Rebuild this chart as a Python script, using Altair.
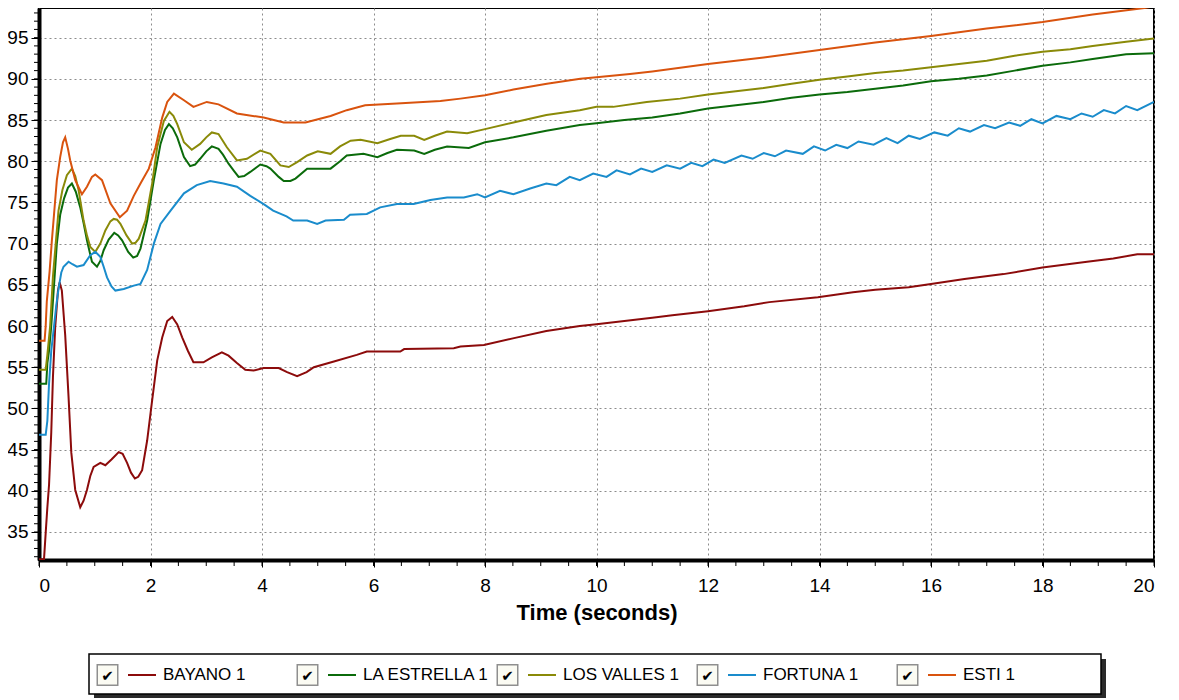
import altair as alt
import pandas as pd

# ---------------- data ----------------
series_names = ["BAYANO 1", "LA ESTRELLA 1", "LOS VALLES 1", "FORTUNA 1", "ESTI 1"]
series_colors = ["#8c0b0b", "#0b6b0b", "#8a8a08", "#1a8ccc", "#d9530e"]

bayano_t = [0, 0.09, 0.12, 0.15, 0.18, 0.22, 0.25, 0.29, 0.34, 0.37, 0.41, 0.47, 0.53, 0.58, 0.65, 0.74, 0.8, 0.86,
            0.92, 0.98, 1.1, 1.19, 1.3, 1.43, 1.5, 1.58, 1.65, 1.72, 1.78, 1.85, 1.94, 2.03, 2.12, 2.21, 2.3, 2.39,
            2.48, 2.57, 2.67, 2.77, 2.95, 3.1, 3.28, 3.4, 3.55, 3.7, 3.85, 4.03, 4.3, 4.45, 4.63, 4.8, 4.93, 5.29,
            5.7, 5.88, 6.48, 6.55, 7.44, 7.56, 7.98, 8.5, 9.1, 9.7, 10.0, 10.5, 11.0, 11.36, 12.0, 12.65, 13.1,
            13.97, 14.6, 15.0, 15.6, 16.0, 16.6, 17.3, 18.0, 18.8, 19.27, 19.7, 20.0]
bayano_v = [31.7, 31.7, 34.9, 38.0, 40.7, 47.1, 53.8, 59.8, 64.3, 65.3, 64.3, 58.9, 51.4, 44.6, 40.1, 38.0, 38.8, 40.1,
            41.8, 42.9, 43.4, 43.1, 43.8, 44.7, 44.5, 43.4, 42.2, 41.5, 41.7, 42.5, 46.1, 51.0, 55.8, 58.6, 60.6, 61.1,
            60.2, 58.6, 57.0, 55.6, 55.6, 56.2, 56.8, 56.4, 55.5, 54.7, 54.6, 54.9, 54.9, 54.4, 53.9, 54.4, 55.0, 55.7,
            56.5, 56.9, 56.9, 57.2, 57.3, 57.5, 57.7, 58.5, 59.4, 60.0, 60.2, 60.6, 61.0, 61.3, 61.8, 62.4, 62.9,
            63.5, 64.1, 64.4, 64.7, 65.1, 65.7, 66.3, 67.1, 67.8, 68.2, 68.7, 68.7]

estrella_t = [0, 0.13, 0.15, 0.18, 0.22, 0.27, 0.32, 0.38, 0.45, 0.52, 0.59, 0.66, 0.74, 0.8, 0.86, 0.95, 1.04, 1.1,
              1.16, 1.25, 1.35, 1.42, 1.49, 1.6, 1.69, 1.76, 1.82, 1.94, 2.06, 2.18, 2.26, 2.33, 2.4, 2.48, 2.6, 2.71,
              2.8, 2.89, 3.0, 3.1, 3.22, 3.3, 3.4, 3.5, 3.58, 3.68, 3.79, 3.97, 4.08, 4.15, 4.3, 4.39, 4.51, 4.6,
              4.81, 5.23, 5.4, 5.52, 5.82, 6.07, 6.25, 6.42, 6.73, 6.91, 7.1, 7.32, 7.71, 8.0, 8.51, 9.1, 9.7, 10.0,
              10.5, 11.0, 11.5, 12.0, 12.5, 13.0, 13.5, 14.0, 14.5, 15.0, 15.5, 16.0, 16.5, 17.0, 17.5, 18.0, 18.5,
              18.9, 19.5, 20.0]
estrella_v = [53.0, 53.0, 55.5, 57.0, 60.0, 65.0, 70.0, 73.5, 75.5, 76.8, 77.3, 76.3, 74.4, 72.5, 70.4, 67.8, 67.2, 67.9,
              69.2, 70.5, 71.3, 71.0, 70.4, 69.0, 68.3, 68.5, 69.4, 72.8, 77.7, 82.1, 83.8, 84.5, 84.0, 82.9, 80.5, 79.4,
              79.6, 80.3, 81.2, 81.8, 81.5, 80.8, 79.7, 78.8, 78.1, 78.2, 78.7, 79.6, 79.4, 79.1, 78.1, 77.6, 77.6, 77.9,
              79.1, 79.1, 80.0, 80.7, 80.9, 80.5, 81.0, 81.4, 81.3, 80.9, 81.4, 81.8, 81.6, 82.3, 82.9, 83.7, 84.4, 84.6,
              85.0, 85.3, 85.8, 86.4, 86.8, 87.2, 87.7, 88.1, 88.4, 88.8, 89.2, 89.7, 90.0, 90.4, 91.0, 91.6, 92.0,
              92.4, 93.0, 93.1]

valles_t = [0, 0.12, 0.15, 0.2, 0.25, 0.3, 0.35, 0.42, 0.5, 0.59, 0.65, 0.71, 0.8, 0.86, 0.92, 1.01, 1.1, 1.19, 1.28,
            1.34, 1.4, 1.46, 1.57, 1.67, 1.73, 1.79, 1.91, 2.03, 2.12, 2.24, 2.34, 2.41, 2.48, 2.6, 2.74, 2.89, 3.0,
            3.1, 3.22, 3.37, 3.55, 3.73, 3.97, 4.15, 4.33, 4.48, 4.63, 4.81, 5.0, 5.23, 5.4, 5.59, 5.77, 6.07, 6.3,
            6.49, 6.73, 6.91, 7.1, 7.32, 7.68, 8.0, 8.51, 9.1, 9.7, 10.0, 10.3, 10.9, 11.5, 12.0, 12.5, 13.0, 13.5,
            14.0, 14.5, 15.0, 15.5, 16.0, 16.5, 17.0, 17.5, 18.0, 18.5, 18.9, 19.5, 20.0]
valles_v = [54.7, 54.7, 56.5, 60.0, 66.0, 70.0, 74.0, 76.5, 78.3, 79.1, 78.2, 76.5, 72.8, 71.0, 69.6, 69.0, 70.0, 71.6, 72.7,
            73.0, 72.9, 72.4, 71.0, 70.0, 70.1, 70.6, 72.8, 77.3, 81.7, 84.9, 86.0, 85.5, 84.5, 82.3, 81.4, 82.1, 82.9,
            83.5, 83.3, 81.7, 80.1, 80.3, 81.3, 80.9, 79.5, 79.3, 79.9, 80.7, 81.2, 80.9, 81.8, 82.5, 82.6, 82.2, 82.7,
            83.1, 83.1, 82.6, 83.1, 83.6, 83.4, 83.9, 84.7, 85.6, 86.2, 86.6, 86.6, 87.2, 87.6, 88.1, 88.5, 88.9, 89.4,
            89.9, 90.3, 90.7, 91.0, 91.4, 91.8, 92.2, 92.8, 93.3, 93.6, 94.0, 94.5, 94.9]

fortuna_t = [0, 0.12, 0.15, 0.18, 0.22, 0.27, 0.31, 0.35, 0.4, 0.44, 0.53, 0.6, 0.68, 0.8, 0.92, 1.01, 1.1, 1.16, 1.22,
             1.3, 1.37, 1.52, 1.7, 1.82, 1.94, 2.06, 2.18, 2.36, 2.6, 2.83, 3.07, 3.31, 3.55, 3.79, 4.03, 4.2, 4.44,
             4.56, 4.81, 4.99, 5.14, 5.47, 5.58, 5.88, 6.12, 6.42, 6.72, 7.02, 7.32, 7.62, 7.86, 8.0, 8.27, 8.51, 8.81,
             9.1, 9.28, 9.52, 9.7, 9.94, 10.18, 10.36, 10.6, 10.8, 11.0, 11.26, 11.5, 11.7, 11.9, 12.1, 12.3, 12.6,
             12.8, 13.0, 13.2, 13.4, 13.7, 13.9, 14.1, 14.3, 14.5, 14.7, 14.97, 15.2, 15.4, 15.6, 15.8, 16.06, 16.3,
             16.5, 16.7, 16.95, 17.15, 17.4, 17.6, 17.8, 18.0, 18.25, 18.5, 18.7, 18.9, 19.1, 19.3, 19.5, 19.7, 20.0]
fortuna_v = [46.8, 46.8, 48.5, 53.0, 57.0, 60.0, 62.5, 64.5, 66.5, 67.2, 67.8, 67.5, 67.2, 67.4, 68.6, 69.0, 68.4, 67.2, 65.9,
             64.8, 64.3, 64.5, 64.9, 65.1, 66.8, 70.0, 72.4, 74.0, 76.1, 77.1, 77.6, 77.3, 76.9, 75.8, 74.8, 74.0, 73.3,
             72.8, 72.8, 72.4, 72.8, 72.9, 73.5, 73.6, 74.4, 74.8, 74.8, 75.3, 75.6, 75.6, 76.0, 75.6, 76.4, 76.0, 76.7,
             77.3, 77.1, 78.1, 77.7, 78.5, 78.1, 78.9, 78.4, 79.1, 78.7, 79.5, 79.1, 79.8, 79.4, 80.2, 79.8, 80.7,
             80.3, 81.0, 80.6, 81.3, 80.9, 81.8, 81.3, 82.0, 81.6, 82.4, 82.0, 82.8, 82.2, 83.1, 82.7, 83.5, 83.1,
             84.0, 83.6, 84.4, 84.0, 84.7, 84.3, 85.1, 84.6, 85.5, 85.1, 85.8, 85.4, 86.2, 85.8, 86.7, 86.2, 87.2]

esti_t = [0, 0.1, 0.12, 0.14, 0.19, 0.23, 0.27, 0.32, 0.38, 0.43, 0.47, 0.52, 0.56, 0.65, 0.77, 0.86, 0.95, 1.01, 1.13,
          1.28, 1.45, 1.58, 1.7, 1.82, 1.97, 2.09, 2.21, 2.3, 2.42, 2.6, 2.77, 3.01, 3.22, 3.55, 4.03, 4.39, 4.78,
          5.23, 5.52, 5.85, 6.42, 7.2, 7.56, 8.0, 8.51, 9.11, 9.71, 10.0, 10.6, 11.0, 12.0, 13.0, 14.0, 15.0, 16.0,
          17.0, 18.0, 18.9, 19.83, 20.0]
esti_v = [58.2, 58.2, 60.0, 63.0, 66.6, 70.3, 73.6, 77.7, 80.5, 82.3, 82.9, 81.5, 80.1, 77.7, 76.0, 76.9, 78.1, 78.4, 77.7,
          74.9, 73.2, 74.0, 75.8, 77.3, 79.1, 81.7, 85.3, 87.2, 88.2, 87.4, 86.6, 87.2, 86.9, 85.8, 85.3, 84.7, 84.7,
          85.5, 86.2, 86.8, 87.0, 87.3, 87.6, 88.0, 88.7, 89.4, 90.0, 90.2, 90.6, 90.9, 91.8, 92.6, 93.5, 94.4, 95.2,
          96.1, 96.9, 97.8, 98.6, 98.8]

x_ticks = list(range(0, 21, 2))
y_ticks = list(range(35, 96, 5))
y_domain = [31.6, 98.6]
x_domain = [0, 20]

# ---------------- build tables ----------------
all_t = [bayano_t, estrella_t, valles_t, fortuna_t, esti_t]
all_v = [bayano_v, estrella_v, valles_v, fortuna_v, esti_v]
frames = []
for i, (name, ts, vs) in enumerate(zip(series_names, all_t, all_v)):
    frames.append(pd.DataFrame({"t": ts, "v": vs, "name": name, "order": i}))
df = pd.concat(frames, ignore_index=True)

minor_y = pd.DataFrame({"mv": [v for v in range(32, 99)]})
minor_x = pd.DataFrame({"mt": [k * 0.5 for k in range(0, 41)]})
legend_df = pd.DataFrame({"name": series_names, "slot": list(range(len(series_names)))})
one = pd.DataFrame({"k": [0]})

FONT = "Liberation Sans"
W, H = 1115, 552

color_scale = alt.Scale(domain=series_names, range=series_colors)
x_scale = alt.Scale(domain=x_domain, nice=False, zero=False)
y_scale = alt.Scale(domain=y_domain, nice=False, zero=False)

lines = alt.Chart(df).mark_line(strokeWidth=2, clip=True).encode(
    x=alt.X("t:Q", scale=x_scale,
            axis=alt.Axis(values=x_ticks, title="Time (seconds)", format="d",
                          grid=True, gridDash=[2, 3], gridColor="#8c8c8c", gridWidth=1,
                          tickSize=7, tickColor="black", tickWidth=1,
                          domainColor="black", domainWidth=4,
                          labelFont=FONT, labelFontSize=19, labelColor="black", labelPadding=9,
                          titleFont=FONT, titleFontSize=22, titleFontWeight="bold",
                          titleColor="black", titlePadding=7)),
    y=alt.Y("v:Q", scale=y_scale,
            axis=alt.Axis(values=y_ticks, title=None, format="d",
                          grid=True, gridDash=[2, 3], gridColor="#8c8c8c", gridWidth=1,
                          tickSize=8, tickColor="black", tickWidth=1,
                          domainColor="black", domainWidth=4,
                          labelFont=FONT, labelFontSize=19, labelColor="black", labelPadding=3)),
    color=alt.Color("name:N", scale=color_scale, legend=None),
    detail="name:N",
    order="order:Q",
)

ytick_minor = alt.Chart(minor_y).mark_rule(color="black", strokeWidth=1).encode(
    y=alt.Y("mv:Q", scale=y_scale), x=alt.value(-5), x2=alt.value(0)
)
xtick_minor = alt.Chart(minor_x).mark_rule(color="black", strokeWidth=1).encode(
    x=alt.X("mt:Q", scale=x_scale), y=alt.value(H), y2=alt.value(H + 6)
)

main = alt.layer(lines, ytick_minor, xtick_minor)

# ---------------- custom legend (checkbox + line + label) ----------------
slot_scale = alt.Scale(domain=[0, 5], range=[68.5, 1068.5])
LY = 667

shadow = alt.Chart(one).mark_rect(color="#2a2a2a").encode(
    x=alt.value(55), x2=alt.value(1067), y=alt.value(651), y2=alt.value(691))
box = alt.Chart(one).mark_rect(fill="white", stroke="black", strokeWidth=1.5).encode(
    x=alt.value(50), x2=alt.value(1062), y=alt.value(646), y2=alt.value(686))
checkbox = alt.Chart(legend_df).mark_square(size=420, color="#fbfbf3", stroke="#8f8f8f",
                                            strokeWidth=1.5, opacity=1).encode(
    x=alt.X("slot:Q", scale=slot_scale, axis=None), y=alt.value(LY))
check = alt.Chart(legend_df).mark_text(text="\u2714", font="DejaVu Sans", fontSize=15,
                                        color="black", baseline="middle", align="center").encode(
    x=alt.X("slot:Q", scale=slot_scale, axis=None), y=alt.value(LY + 1))
swatch = alt.Chart(legend_df).mark_rule(strokeWidth=2, xOffset=20.5, x2Offset=48.5).encode(
    x=alt.X("slot:Q", scale=slot_scale, axis=None), x2="slot:Q", y=alt.value(LY),
    color=alt.Color("name:N", scale=color_scale, legend=None))
label = alt.Chart(legend_df).mark_text(align="left", baseline="middle", dx=55.5, font=FONT,
                                        fontSize=17, color="black").encode(
    x=alt.X("slot:Q", scale=slot_scale, axis=None), y=alt.value(LY), text="name:N")

legend = alt.layer(shadow, box, checkbox, check, swatch, label)

chart = alt.layer(main, legend).resolve_scale(x="independent").properties(
    width=W, height=H,
    padding={"left": 31, "top": 0, "right": 17, "bottom": 138},
    autosize=alt.AutoSizeParams(type="none"),
    background="white",
).configure_view(stroke="black", strokeWidth=2)

chart.save("out.html", embed_options={"renderer": "svg", "actions": False})
